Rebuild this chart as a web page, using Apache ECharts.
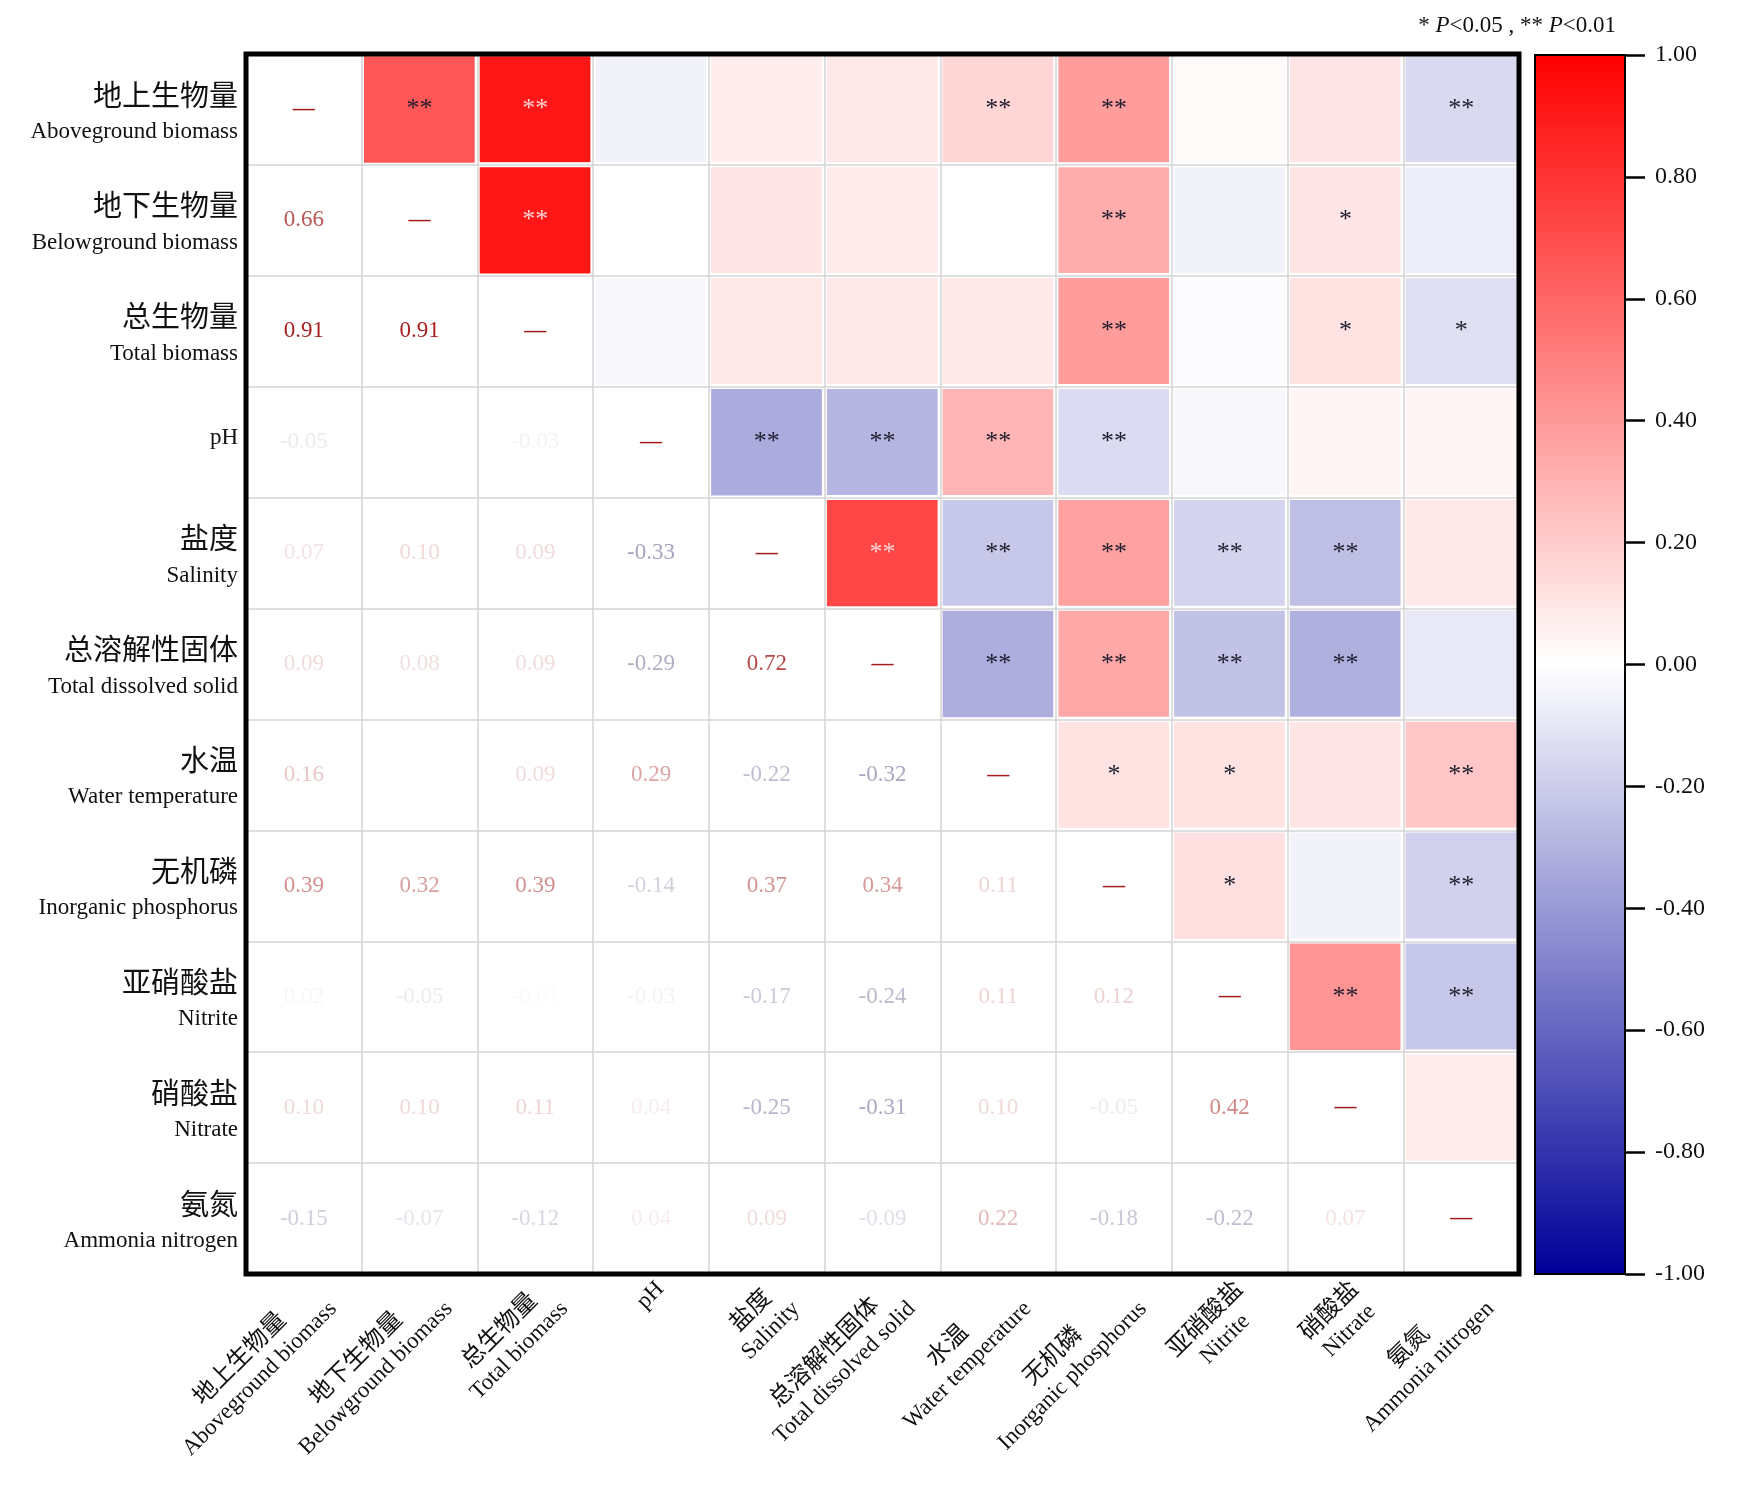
<!DOCTYPE html>
<html>
<head>
<meta charset="utf-8">
<script src="https://cdn.jsdelivr.net/npm/echarts@6/dist/echarts.min.js"></script>
<style>
  html, body { margin: 0; padding: 0; background: #fff; }
  #chart { width: 1755px; height: 1493px; }
</style>
</head>
<body>
<div id="chart"></div>
<script>
// 变量名（中文 / 英文）
const namesZh = ['地上生物量', '地下生物量', '总生物量', '', '盐度', '总溶解性固体', '水温', '无机磷', '亚硝酸盐', '硝酸盐', '氨氮']
const namesEn = ['Aboveground biomass', 'Belowground biomass', 'Total biomass', 'pH', 'Salinity',
  'Total dissolved solid', 'Water temperature', 'Inorganic phosphorus', 'Nitrite', 'Nitrate', 'Ammonia nitrogen']

// 下三角相关系数，第 i 行是第 i 个变量与前面 0..i-1 个变量
const corrRows = [
  [],
  [0.66],
  [0.91, 0.91],
  [-0.05, 0.00, -0.03],
  [0.07, 0.10, 0.09, -0.33],
  [0.09, 0.08, 0.09, -0.29, 0.72],
  [0.16, 0.00, 0.09, 0.29, -0.22, -0.32],
  [0.39, 0.32, 0.39, -0.14, 0.37, 0.34, 0.11],
  [0.02, -0.05, -0.01, -0.03, -0.17, -0.24, 0.11, 0.12],
  [0.10, 0.10, 0.11, 0.04, -0.25, -0.31, 0.10, -0.05, 0.42],
  [-0.15, -0.07, -0.12, 0.04, 0.09, -0.09, 0.22, -0.18, -0.22, 0.07]
]

// 上三角显著性，第 i 行是第 i 个变量与后面 i+1..10 个变量
const sigRows = [
  ['**', '**', '', '', '', '**', '**', '', '', '**'],
  ['**', '', '', '', '', '**', '', '*', ''],
  ['', '', '', '', '**', '', '*', '*'],
  ['**', '**', '**', '**', '', '', ''],
  ['**', '**', '**', '**', '**', ''],
  ['**', '**', '**', '**', ''],
  ['*', '*', '', '**'],
  ['*', '', '**'],
  ['**', '**'],
  ['']
]

const FONT = "'Liberation Serif', 'Noto Sans CJK SC', serif"
const n = namesEn.length

function corr(i, j) {
  if (i === j) return 1
  return i > j ? corrRows[i][j] : corrRows[j][i]
}

// 下三角文字颜色：数值越大越深
function textColor(v) {
  const t = Math.min(1, Math.pow(Math.abs(v), 0.8) * 1.05)
  const base = v >= 0 ? [165, 28, 28] : [48, 48, 105]
  const c = base.map(b => Math.round(255 - t * (255 - b)))
  return `rgb(${c[0]},${c[1]},${c[2]})`
}

const upperData = []
const lowerData = []
for (let i = 0; i < n; i++) {
  for (let j = 0; j < n; j++) {
    const v = corr(i, j)
    if (j > i) {
      upperData.push({
        value: [j, i, v],
        label: { color: Math.abs(v) >= 0.7 ? '#ffd2d2' : '#1e1e2e' }
      })
    } else {
      lowerData.push({ value: [j, i, v], label: { color: textColor(v) } })
    }
  }
}

function twoLine(idx) {
  return namesZh[idx] ? `{zh|${namesZh[idx]}}\n{en|${namesEn[idx]}}` : `{solo|${namesEn[idx]}}`
}

const chart = echarts.init(document.getElementById('chart'))
const option = {
  backgroundColor: '#fff',
  animation: false,
  title: {
    text: '* {i|P}<0.05 , ** {i|P}<0.01',
    right: 134,
    top: 9,
    textStyle: {
      fontFamily: FONT, fontSize: 23, fontWeight: 'normal', color: '#111',
      rich: { i: { fontFamily: FONT, fontSize: 23, fontStyle: 'italic', color: '#111' } }
    }
  },
  grid: [
    { left: 246, top: 54, width: 1273, height: 1220, show: true, borderColor: '#000', borderWidth: 5, backgroundColor: 'transparent', z: 10 },
    { left: 1535, top: 55, width: 90, height: 1219, show: true, borderColor: '#000', borderWidth: 2, backgroundColor: 'transparent', z: 10 }
  ],
  xAxis: [
    {
      type: 'category', data: namesEn, gridIndex: 0, z: 4,
      axisLine: { show: false }, axisTick: { show: false },
      splitLine: { show: true, interval: 0, lineStyle: { color: '#d4d4d4', width: 1.5 } },
      axisLabel: {
        interval: 0, rotate: 45, margin: 2, verticalAlign: 'top',
        formatter: (v, idx) => twoLine(idx),
        rich: {
          zh: { fontFamily: FONT, fontSize: 24, lineHeight: 28, color: '#111', align: 'center' },
          en: { fontFamily: FONT, fontSize: 23, lineHeight: 27, color: '#111', align: 'center' },
          solo: { fontFamily: FONT, fontSize: 23, lineHeight: 27, color: '#111', align: 'center' }
        }
      }
    },
    { type: 'value', gridIndex: 1, show: false, min: 0, max: 1 }
  ],
  yAxis: [
    {
      type: 'category', data: namesEn, gridIndex: 0, inverse: true, z: 4,
      axisLine: { show: false }, axisTick: { show: false },
      splitLine: { show: true, interval: 0, lineStyle: { color: '#d4d4d4', width: 1.5 } },
      axisLabel: {
        interval: 0, margin: 8, padding: [11, 0, 0, 0],
        formatter: (v, idx) => twoLine(idx),
        rich: {
          zh: { fontFamily: FONT, fontSize: 29, lineHeight: 34, color: '#111', align: 'right' },
          en: { fontFamily: FONT, fontSize: 23, lineHeight: 34, color: '#111', align: 'right' },
          solo: { fontFamily: FONT, fontSize: 23, lineHeight: 34, color: '#111', align: 'right', padding: [0, 0, 19, 0] }
        }
      }
    },
    {
      type: 'value', gridIndex: 1, position: 'right', min: -1, max: 1, interval: 0.2, z: 12,
      axisLine: { show: true, onZero: false, lineStyle: { color: '#000', width: 2 } },
      axisTick: { show: true, inside: false, length: 20, lineStyle: { color: '#000', width: 2.5 } },
      splitLine: { show: false },
      axisLabel: {
        margin: 30, fontFamily: FONT, fontSize: 24, color: '#111',
        formatter: v => (Math.abs(v) < 1e-9 ? 0 : v).toFixed(2)
      }
    }
  ],
  visualMap: {
    type: 'continuous', min: -1, max: 1, seriesIndex: 0, calculable: false,
    orient: 'vertical', left: 1535, top: 55, itemWidth: 90, itemHeight: 1219,
    padding: 0, text: null, showLabel: false, hoverLink: false,
    inRange: { color: ['#000099', '#ffffff', '#ff0000'] }
  },
  series: [
    {
      type: 'heatmap', xAxisIndex: 0, yAxisIndex: 0, data: upperData,
      itemStyle: { borderColor: '#fff', borderWidth: 5 },
      label: {
        show: true, fontFamily: FONT, fontSize: 26,
        formatter: p => sigRows[p.value[1]][p.value[0] - p.value[1] - 1]
      },
      emphasis: { disabled: true }
    },
    {
      type: 'heatmap', xAxisIndex: 0, yAxisIndex: 0, data: lowerData,
      itemStyle: { color: 'rgba(0,0,0,0)' },
      label: {
        show: true, fontFamily: FONT, fontSize: 23,
        formatter: p => p.value[0] === p.value[1] ? '{d|—}' : p.value[2].toFixed(2),
        rich: { d: { fontFamily: FONT, fontSize: 22, fontWeight: 'bold' } }
      },
      emphasis: { disabled: true }
    }
  ]
}
chart.setOption(option)
window.onresize = function () { chart.resize() }
</script>
</body>
</html>
